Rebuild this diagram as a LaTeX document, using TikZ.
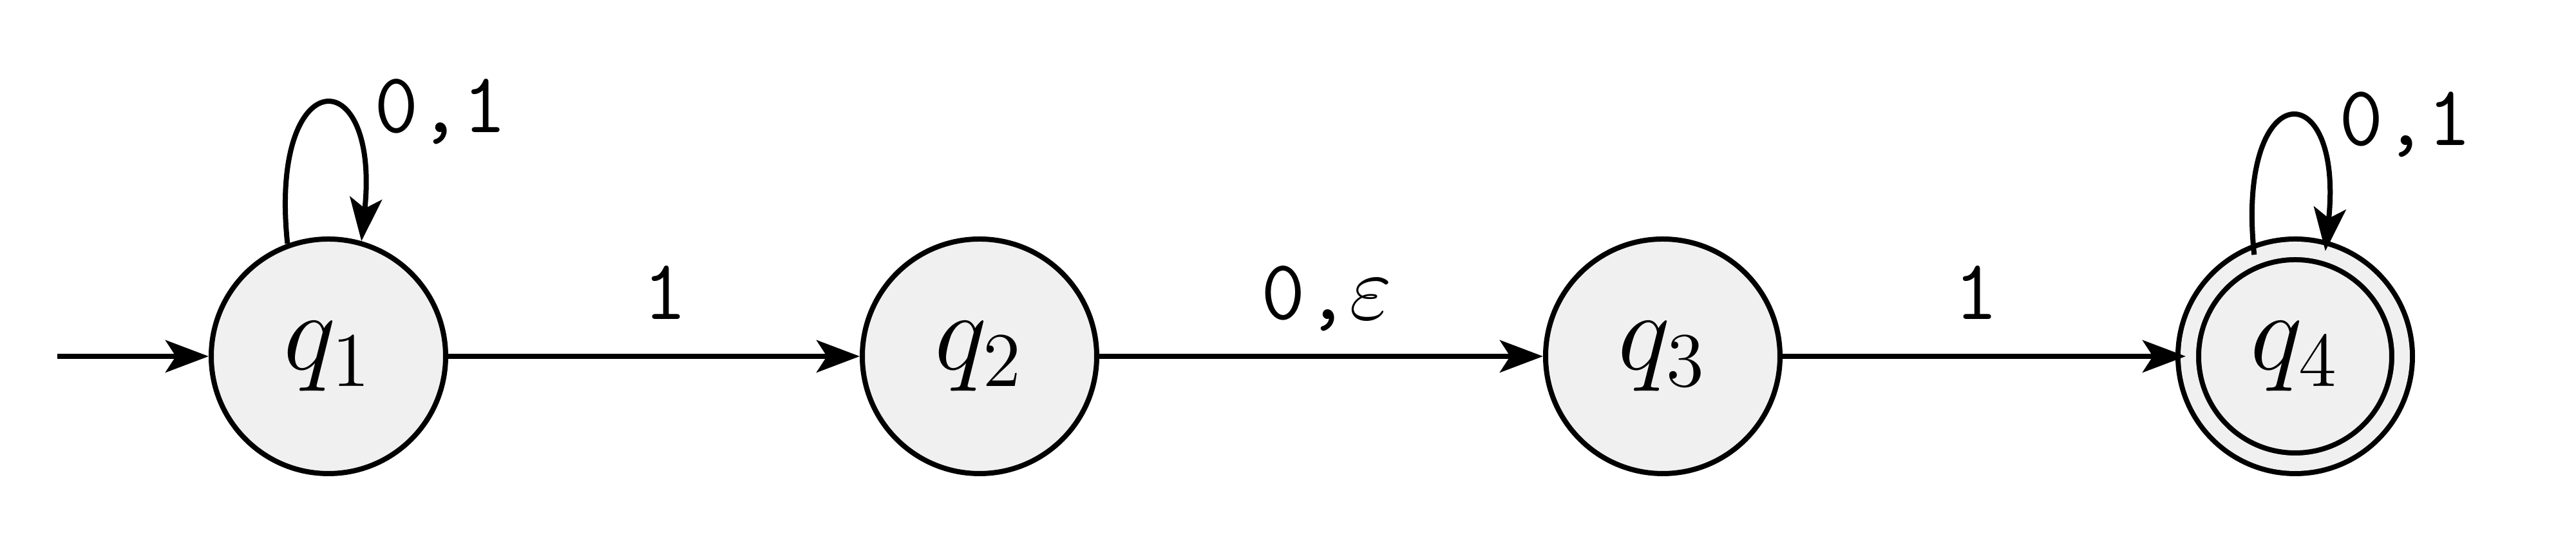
\documentclass[tikz,border=0pt]{standalone}
\usepackage{amsmath,amssymb}
\usepackage{tikz}
\usetikzlibrary{arrows.meta}
\usepackage{xcolor}
\definecolor{statefill}{RGB}{240, 240, 240}

\begin{document}
\begin{tikzpicture}[x=10pt, y=10pt, line width=0.8pt,
    >={Stealth[length=6.7pt, width=5pt, inset=1.6pt]},
    state/.style={circle, draw, fill=statefill, minimum size=36.4pt, inner sep=0pt, font=\LARGE},
    accepting/.style={state, minimum size=33.2pt, double=statefill, double distance=2.4pt},
    sym/.style={font=\fontsize{13.3}{16}\selectfont\ttfamily, text depth=0pt}]
    \useasboundingbox (-5.1, -2.99) rectangle (34.9, 5.53);
    \node[state] (q1) at (0, 0) {$q_1$};
    \node[state] (q2) at (10.11, 0) {$q_2$};
    \node[state] (q3) at (20.72, 0) {$q_3$};
    \node[accepting] (q4) at (30.54, 0) {$q_4$};
    \coordinate (start) at (-4.21, 0);
    \draw[->] (start) -- (q1);
    \draw[->] (q1) -- node[sym, above=2pt, pos=0.527] {1} (q2);
    \draw[->] (q2) -- node[sym, above=2pt, pos=0.513] {0,$\varepsilon$} (q3);
    \draw[->] (q3) -- node[sym, above=2pt, pos=0.48] {1} (q4);
    \draw[->] (q1.110) to[out=96, in=84, distance=28.5pt] node[sym, right=4pt] {0,1} (q1.74);
    \draw[->] (q4.112) to[out=96, in=84, distance=28pt] node[sym, right=4pt] {0,1} (q4.74);
\end{tikzpicture}
\end{document}
